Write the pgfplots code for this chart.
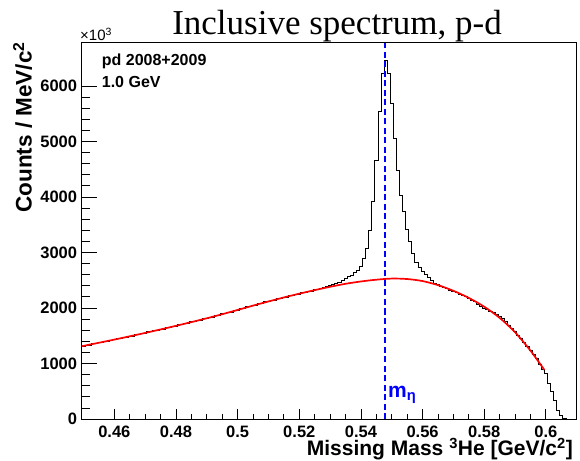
\documentclass[border=0pt]{standalone}
\usepackage{pgfplots}
\pgfplotsset{compat=1.18}
\usepackage{fontspec}
\setmainfont{Liberation Sans}
\newfontfamily\titlefont{Liberation Serif}

\pgfplotstableread{
x y
0.4494 1315
0.4505 1335
0.4515 1333
0.4525 1360
0.4535 1358
0.4545 1380
0.4555 1379
0.4565 1405
0.4575 1401
0.4585 1424
0.4595 1426
0.4605 1450
0.4615 1449
0.4625 1471
0.4635 1473
0.4645 1497
0.4655 1496
0.4665 1519
0.4675 1522
0.4685 1546
0.4695 1545
0.4705 1570
0.4715 1570
0.4725 1595
0.4735 1596
0.4745 1621
0.4755 1620
0.4765 1645
0.4775 1648
0.4785 1673
0.4795 1672
0.4805 1699
0.4815 1700
0.4825 1726
0.4835 1727
0.4845 1752
0.4855 1754
0.4865 1781
0.4875 1782
0.4885 1808
0.4895 1809
0.4905 1836
0.4915 1839
0.4925 1866
0.4935 1867
0.4945 1895
0.4955 1897
0.4965 1926
0.4975 1928
0.4985 1956
0.4995 1960
0.5005 1988
0.5015 1990
0.5025 2020
0.5035 2021
0.5045 2050
0.5055 2052
0.5065 2082
0.5075 2080
0.5085 2112
0.5095 2111
0.5105 2141
0.5115 2140
0.5125 2170
0.5135 2168
0.5145 2199
0.5155 2197
0.5165 2226
0.5175 2222
0.5185 2253
0.5195 2250
0.5205 2279
0.5215 2280
0.5225 2305
0.5235 2303
0.5245 2330
0.5255 2330
0.5265 2358
0.5275 2366
0.5285 2385
0.5295 2404
0.5305 2423
0.5315 2444
0.5325 2469
0.5335 2500
0.5345 2535
0.5355 2564
0.5365 2595
0.5375 2636
0.5385 2685
0.5395 2757
0.5405 2895
0.5415 3076
0.5425 3405
0.5435 3915
0.5445 4667
0.5455 5537
0.5465 6229
0.5475 6456
0.5485 6229
0.5495 5688
0.5505 5057
0.5515 4486
0.5525 4036
0.5535 3735
0.5545 3417
0.5555 3195
0.5565 2985
0.5575 2820
0.5585 2730
0.5595 2660
0.5605 2610
0.5615 2550
0.5625 2490
0.5635 2450
0.5645 2420
0.5655 2395
0.5665 2368
0.5675 2345
0.5685 2322
0.5695 2300
0.5705 2276
0.5715 2250
0.5725 2228
0.5735 2200
0.5745 2175
0.5755 2142
0.5765 2110
0.5775 2070
0.5785 2035
0.5795 2000
0.5805 1975
0.5815 1945
0.5825 1920
0.5835 1890
0.5845 1855
0.5855 1805
0.5865 1750
0.5875 1695
0.5885 1640
0.5895 1585
0.5905 1515
0.5915 1450
0.5925 1380
0.5935 1315
0.5945 1245
0.5955 1170
0.5965 1090
0.5975 990
0.5985 890
0.5995 823
0.6005 643
0.6015 500
0.6025 342
0.6035 162
0.6045 62
0.6055 12
0.6065 0
0.6100 0
}\histdata

\pgfplotstableread{
x y
0.4494 1311
0.455 1374
0.460 1431
0.465 1490
0.470 1551
0.475 1614
0.480 1679
0.485 1746
0.490 1815
0.495 1888
0.500 1965
0.505 2043
0.510 2118
0.515 2190
0.520 2258
0.525 2322
0.530 2382
0.535 2436
0.540 2478
0.545 2510
0.550 2530
0.555 2522
0.560 2485
0.565 2412
0.570 2310
0.575 2182
0.580 2023
0.585 1822
0.590 1562
0.595 1232
0.5995 885
}\fitdata

\begin{document}
\begin{tikzpicture}
\useasboundingbox (-81.7bp,-42bp) rectangle (498.3bp,419bp);
\begin{axis}[
  at={(0,0)}, anchor=south west,
  width=495bp, height=376.3bp, scale only axis,
  xmin=0.4494, xmax=0.61, ymin=0, ymax=6780,
  xtick={0.46,0.48,0.5,0.52,0.54,0.56,0.58,0.6},
  minor x tick num=3,
  ytick={0,1000,2000,3000,4000,5000,6000},
  minor y tick num=4,
  tick align=inside, xtick pos=bottom, ytick pos=left,
  /pgf/number format/assume math mode=true,
  /pgf/number format/1000 sep={},
  scaled ticks=false,
  ticklabel style={font=\fontsize{16.5bp}{19bp}\selectfont\bfseries},
  xticklabel style={inner sep=0pt, anchor=north, yshift=-6.3bp},
  yticklabel style={inner sep=0pt, anchor=east, xshift=-4.4bp},
  xtick style={black, line width=0.8bp, /pgfplots/major tick length=10bp, /pgfplots/minor tick length=5bp},
  ytick style={black, line width=0.8bp, /pgfplots/major tick length=15.5bp, /pgfplots/minor tick length=7.8bp},
  axis line style={line width=0.8bp},
]
\addplot[const plot mark left, black, line width=0.8bp] table[x=x,y=y] {\histdata};
\addplot[red, line width=1.7bp, smooth] table[x=x,y=y] {\fitdata};
\addplot[blue, line width=1.6bp, dash pattern=on 6bp off 3.5bp] coordinates {(0.54786,0) (0.54786,6780)};
\end{axis}
\node[anchor=base, inner sep=0pt, font=\titlefont\fontsize{35bp}{40bp}\selectfont] at (255.3bp,384bp) {Inclusive spectrum, p-d};
\node[anchor=base west, inner sep=0pt, font=\fontsize{15bp}{18bp}\selectfont] at (-1.7bp,378bp) {×10\textsuperscript{3}};
\node[anchor=base east, rotate=90, inner sep=0pt, font=\fontsize{22.5bp}{26bp}\selectfont\bfseries] at (-50bp,377bp) {Counts / MeV/c\textsuperscript{2}};
\node[anchor=base east, inner sep=0pt, font=\fontsize{21bp}{25bp}\selectfont\bfseries] at (491.3bp,-36.5bp) {Missing Mass \textsuperscript{3}He [GeV/c\textsuperscript{2}]};
\node[anchor=base west, inner sep=0pt, font=\fontsize{16bp}{19bp}\selectfont\bfseries] at (20bp,353.3bp) {pd 2008+2009};
\node[anchor=base west, inner sep=0pt, font=\fontsize{16bp}{19bp}\selectfont\bfseries] at (20bp,331.7bp) {1.0 GeV};
\node[anchor=base west, inner sep=0pt, text=blue, font=\fontsize{21bp}{25bp}\selectfont\bfseries] at (306.3bp,22bp) {m\textsubscript{η}};
\end{tikzpicture}
\end{document}
